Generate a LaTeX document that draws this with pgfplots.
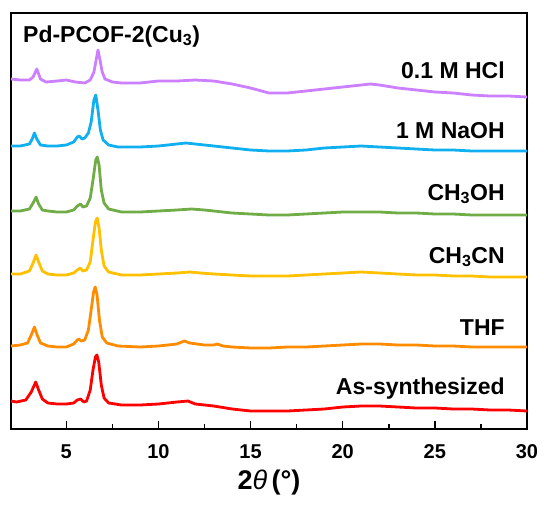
\documentclass[border=0pt]{standalone}
\usepackage{fontspec}
\setmainfont{Liberation Sans}
\usepackage{pgfplots}
\pgfplotsset{compat=1.18}
\usetikzlibrary{calc}

\definecolor{cHCl}{HTML}{CC80FF}
\definecolor{cNaOH}{HTML}{10B0F0}
\definecolor{cMeOH}{HTML}{70AD47}
\definecolor{cMeCN}{HTML}{FFC000}
\definecolor{cTHF}{HTML}{FF8C00}
\definecolor{cAs}{HTML}{FF0000}

\begin{document}
\begin{tikzpicture}
\begin{axis}[
    scale only axis,
    width=516pt, height=416pt,
    xmin=2, xmax=30,
    ymin=13, ymax=429,
    y dir=reverse,
    axis line style={line width=2pt},
    xtick={5,10,...,30},
    minor x tick num=1,
    ytick=\empty,
    tick align=inside,
    xtick pos=bottom,
    major tick length=8pt,
    minor tick length=5pt,
    every tick/.style={black, line width=1.5pt},
    tick label style={font=\fontsize{20}{24}\selectfont\bfseries},
    xticklabel style={yshift=-12pt},
    /pgf/number format/assume math mode=true,
    xlabel={2\textit{\mdseries θ}\,(°)},
    xlabel style={font=\fontsize{27}{31}\selectfont\bfseries, yshift=-4pt},
    every axis plot/.append style={line width=2.8pt, line join=round},
    clip=false,
]
% HCl
\addplot[cHCl] coordinates {
(2.0,79) (2.5,80) (3.0,80) (3.2,77) (3.4,69) (3.6,79) (3.9,82) (4.5,81)
(5.0,80) (5.5,82) (6.0,83) (6.3,80) (6.5,72) (6.6,62) (6.72,50) (6.85,62)
(6.95,72) (7.1,79) (7.5,82) (8,83) (9,83) (10,81) (11,81) (12,80) (13,81)
(14,84) (15,88) (16,93) (17,93) (18,91) (19,89) (20,87) (21,85) (21.5,84)
(22,85) (23,88) (24,90) (25,92) (26,93) (27,95) (28,96) (29,96) (30,97)
};
% NaOH
\addplot[cNaOH] coordinates {
(2.0,146) (2.5,146) (3.0,144) (3.15,139) (3.27,133) (3.4,139) (3.6,145)
(4.0,146) (4.5,146) (5.0,145) (5.4,142) (5.6,137) (5.7,136) (5.85,139)
(6.0,138) (6.2,133) (6.35,122) (6.5,100) (6.6,95) (6.72,110) (6.85,130)
(7.0,140) (7.3,145) (7.8,147) (9,147) (10,146) (11,144) (11.5,143) (12,144)
(13,146) (14,148) (15,150) (16,151) (17,151) (18,150) (19,148) (20,147)
(21,146) (22,147) (23,148) (24,149) (25,150) (26,150) (27,151) (28,151)
(29,151) (30,151)
};
% CH3OH
\addplot[cMeOH] coordinates {
(2.0,211) (2.5,211) (3.0,209) (3.2,203) (3.36,197) (3.5,204) (3.7,210)
(4.0,211) (4.5,212) (5.0,212) (5.4,210) (5.6,206) (5.78,204) (5.9,207)
(6.1,206) (6.3,198) (6.45,180) (6.6,160) (6.68,157) (6.78,165) (6.9,190)
(7.05,203) (7.3,209) (8,212) (9,212) (10,211) (11,210) (11.8,209)
(12.5,210) (13,211) (14,213) (15,214) (16,215) (17,215) (18,214) (19,213)
(20,212) (21,212) (22,212) (23,213) (24,213) (25,214) (26,214) (27,215)
(28,215) (29,215) (30,215)
};
% CH3CN
\addplot[cMeCN] coordinates {
(2.0,274) (2.5,274) (3.0,271) (3.2,263) (3.36,255) (3.5,262) (3.7,271)
(4.0,274) (4.5,275) (5.0,275) (5.4,273) (5.6,270) (5.76,268) (5.9,271)
(6.1,270) (6.3,262) (6.45,240) (6.58,222) (6.68,218) (6.78,228) (6.9,250)
(7.05,266) (7.3,272) (8,275) (9,275) (10,274) (11,273) (11.7,272)
(12.3,273) (13,274) (14,275) (15,276) (16,276) (17,276) (18,275) (19,274)
(20,273) (21,272) (22,273) (23,274) (24,275) (25,275) (26,276) (27,276)
(28,277) (29,277) (30,277)
};
% THF
\addplot[cTHF] coordinates {
(2.0,346) (2.5,345) (2.9,343) (3.1,335) (3.27,327) (3.42,335) (3.6,343)
(4.0,346) (4.5,347) (5.0,347) (5.4,344) (5.6,340) (5.69,339) (5.8,341)
(6.0,340) (6.2,330) (6.35,310) (6.48,292) (6.57,287) (6.67,295) (6.8,320)
(6.95,337) (7.2,343) (7.8,346) (9,347) (10,346) (11,344) (11.4,341)
(11.7,343) (12.5,345) (13.0,345) (13.2,344) (13.5,346) (14,347) (15,348)
(16,348) (17,347) (18,347) (19,346) (20,345) (21,344) (22,344) (23,345)
(24,345) (25,346) (26,346) (27,347) (28,347) (29,347) (30,347)
};
% As-synthesized
\addplot[cAs] coordinates {
(2.0,401) (2.3,402) (2.8,400) (3.1,392) (3.34,382) (3.5,390) (3.7,399)
(4.0,403) (4.5,404) (5.0,404) (5.4,403) (5.6,400) (5.78,399) (5.95,402)
(6.1,401) (6.3,390) (6.45,370) (6.58,357) (6.66,355) (6.76,362) (6.9,385)
(7.05,398) (7.3,403) (8,405) (9,405) (10,404) (11,402) (11.6,401) (12,404)
(13,406) (14,409) (15,411) (16,411) (17,411) (18,410) (19,409) (20,407)
(21,406) (22,406) (23,407) (24,408) (25,408) (26,409) (27,409) (28,410)
(29,410) (30,411)
};

\begin{scope}[font=\fontsize{23}{27}\selectfont\bfseries]
\node[anchor=base east, inner sep=0pt] at (axis cs:28.8,78) {0.1 M HCl};
\node[anchor=base east, inner sep=0pt] at (axis cs:28.8,138) {1 M NaOH};
\node[anchor=base east, inner sep=0pt] at (axis cs:28.8,200) {CH\textsubscript{3}OH};
\node[anchor=base east, inner sep=0pt] at (axis cs:28.8,263) {CH\textsubscript{3}CN};
\node[anchor=base east, inner sep=0pt] at (axis cs:28.8,335) {THF};
\node[anchor=base east, inner sep=0pt] at (axis cs:28.8,394) {As-synthesized};
\end{scope}
\node[anchor=base west, inner sep=0pt, font=\fontsize{23}{27}\selectfont\bfseries]
  at (axis cs:2.65,42) {Pd-PCOF-2(Cu\textsubscript{3})};
\end{axis}
\path ($(current axis.south west)+(-11pt,-75pt)$) rectangle ($(current axis.north east)+(17pt,13pt)$);
\end{tikzpicture}
\end{document}
